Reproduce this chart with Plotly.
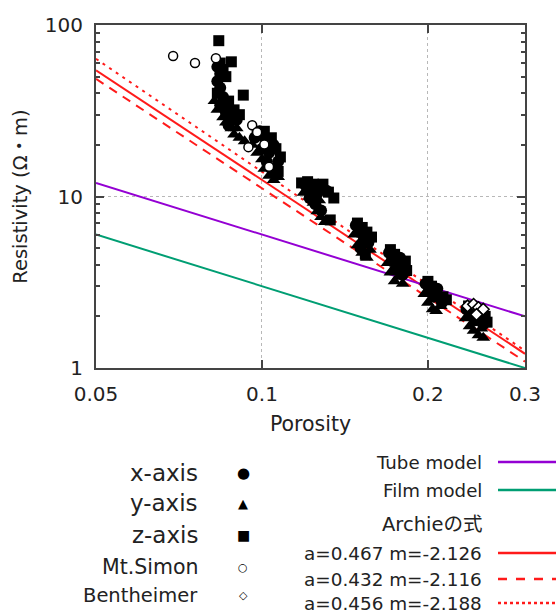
import plotly.graph_objects as go

# measured samples (porosity, resistivity in ohm-m)
x_phi = [0.083, 0.084, 0.083, 0.084, 0.085, 0.084, 0.086, 0.088, 0.090, 0.087,
         0.097, 0.099, 0.101, 0.100, 0.103, 0.102, 0.104, 0.106, 0.105, 0.107,
         0.120, 0.123, 0.126, 0.122, 0.125, 0.128, 0.131,
         0.148, 0.150, 0.153, 0.151, 0.156,
         0.170, 0.172, 0.175, 0.178, 0.180,
         0.198, 0.201, 0.205, 0.208, 0.212,
         0.235, 0.240, 0.244, 0.248, 0.252]
x_res = [57, 52, 47, 43, 38, 34, 31, 30, 28, 26,
         22, 24, 22, 19, 18, 16, 14.5, 13.5, 20, 16,
         11.6, 11.0, 10.4, 9.8, 9.0, 8.3, 10.8,
         6.8, 6.2, 5.6, 5.0, 5.4,
         4.7, 4.2, 3.8, 4.4, 3.5,
         3.1, 2.8, 2.6, 2.9, 2.4,
         2.2, 2.05, 1.9, 2.15, 1.8]

y_phi = [0.082, 0.083, 0.085, 0.086, 0.088, 0.089, 0.091, 0.093, 0.090, 0.087,
         0.096, 0.098, 0.100, 0.101, 0.103, 0.105, 0.107,
         0.119, 0.122, 0.124, 0.126, 0.128, 0.130, 0.127,
         0.147, 0.149, 0.152, 0.155, 0.157,
         0.169, 0.171, 0.174, 0.177, 0.180,
         0.197, 0.200, 0.204, 0.207, 0.211,
         0.234, 0.238, 0.242, 0.247, 0.252, 0.250]
y_res = [36, 32, 29, 27, 25, 23, 22, 21, 25, 33,
         20, 18, 16.5, 14.5, 13.2, 12.5, 13,
         10.5, 10, 9.2, 8.2, 7.6, 7.1, 9.5,
         6.0, 5.2, 4.7, 4.4, 4.9,
         4.1, 3.6, 3.2, 3.4, 3.1,
         2.7, 2.4, 2.2, 2.15, 2.3,
         1.95, 1.75, 1.65, 1.55, 1.5, 1.7]

z_phi = [0.0835, 0.088, 0.0925, 0.084, 0.085, 0.086, 0.083, 0.087, 0.089, 0.091,
         0.098, 0.101, 0.104, 0.106, 0.108, 0.107, 0.103,
         0.118, 0.121, 0.124, 0.127, 0.129, 0.132, 0.135, 0.133,
         0.149, 0.152, 0.155, 0.158, 0.154,
         0.171, 0.174, 0.177, 0.182, 0.183,
         0.200, 0.203, 0.207, 0.213, 0.216,
         0.237, 0.243, 0.249, 0.254, 0.256]
z_res = [81, 61, 39, 60, 55, 50, 40, 36, 32, 30,
         23, 24, 22, 19, 17, 14, 20,
         12, 12.2, 11.8, 11.4, 11.8, 10.6, 9.8, 7.3,
         7.0, 6.6, 6.2, 5.8, 4.6,
         4.9, 4.6, 4.0, 4.2, 3.7,
         3.2, 3.0, 2.7, 2.6, 2.5,
         2.3, 2.0, 1.9, 2.0, 1.85]

simon_phi = [0.069, 0.0756, 0.0825, 0.096, 0.098, 0.0945, 0.101, 0.103]
simon_res = [66, 60, 64, 26, 23.7, 19.4, 20.1, 14.9]

benth_phi = [0.236, 0.242, 0.247, 0.252, 0.245]
benth_res = [2.3, 2.35, 2.25, 2.2, 2.05]

# model lines, end values at porosity 0.05 and 0.3
line_phi = [0.05, 0.3]
tube_res = [12.0, 2.0]
film_res = [6.0, 1.0]
archie1_res = [54.5, 1.21]
archie2_res = [48.5, 1.09]
archie3_res = [63.5, 1.26]

FONT = "DejaVu Sans, Noto Sans CJK JP, sans-serif"
PURPLE = "#9400d3"
GREEN = "#009e73"
RED = "#ff1a1a"

fig = go.Figure()

for res, dash in [(archie2_res, "9px,7px"), (archie3_res, "3px,5px"), (archie1_res, "solid")]:
    fig.add_trace(go.Scatter(x=line_phi, y=res, mode="lines",
                             line=dict(color=RED, width=2, dash=dash)))
fig.add_trace(go.Scatter(x=line_phi, y=tube_res, mode="lines", line=dict(color=PURPLE, width=2)))
fig.add_trace(go.Scatter(x=line_phi, y=film_res, mode="lines", line=dict(color=GREEN, width=2)))

fig.add_trace(go.Scatter(x=z_phi, y=z_res, mode="markers",
                         marker=dict(symbol="square", size=11, color="black")))
fig.add_trace(go.Scatter(x=y_phi, y=y_res, mode="markers",
                         marker=dict(symbol="triangle-up", size=12, color="black")))
fig.add_trace(go.Scatter(x=x_phi, y=x_res, mode="markers",
                         marker=dict(symbol="circle", size=12, color="black")))
fig.add_trace(go.Scatter(x=simon_phi, y=simon_res, mode="markers",
                         marker=dict(symbol="circle", size=9, color="white",
                                     line=dict(color="black", width=1.5))))
fig.add_trace(go.Scatter(x=benth_phi, y=benth_res, mode="markers",
                         marker=dict(symbol="diamond", size=9, color="white",
                                     line=dict(color="black", width=1.5))))

# hand-made legends under the plot (text right-aligned, symbol on the right)
W, H, L, T = 429.0, 343.0, 96.0, 25.0


def px(x):
    return (x - L) / W


def py(y):
    return (T + H - y) / H


left_items = [("x-axis", "●", 473, 23, 15), ("y-axis", "▲", 503, 23, 13),
              ("z-axis", "■", 535, 23, 14), ("Mt.Simon", "○", 567, 20.5, 11),
              ("Bentheimer", "◇", 595, 19.5, 11)]
for text, sym, yy, fs, ss in left_items:
    fig.add_annotation(x=px(200), y=py(yy), xref="paper", yref="paper", text=text,
                       showarrow=False, xanchor="right", yanchor="middle",
                       font=dict(size=fs, color="#222", family=FONT))
    fig.add_annotation(x=px(243), y=py(yy), xref="paper", yref="paper", text=sym,
                       showarrow=False, xanchor="center", yanchor="middle",
                       font=dict(size=ss, color="black", family="DejaVu Sans"))

right_items = [("Tube model", 462, 18.2, PURPLE, "solid"),
               ("Film model", 490, 18.2, GREEN, "solid"),
               ("Archieの式", 524, 19.5, None, None),
               ("a=0.467 m=-2.126", 553, 18.4, RED, "solid"),
               ("a=0.432 m=-2.116", 579, 18.4, RED, "dash"),
               ("a=0.456 m=-2.188", 603, 18.4, RED, "dot")]
for text, yy, fs, col, dash in right_items:
    fig.add_annotation(x=px(484), y=py(yy), xref="paper", yref="paper", text=text,
                       showarrow=False, xanchor="right", yanchor="middle",
                       font=dict(size=fs, color="#222", family=FONT))
    if col:
        fig.add_shape(type="line", xref="paper", yref="paper",
                      x0=px(498), x1=px(556), y0=py(yy), y1=py(yy),
                      line=dict(color=col, width=2.5, dash=dash))

axis_common = dict(type="log", showline=True, linecolor="#444", linewidth=2, mirror="ticks",
                   ticks="inside", tickcolor="#444", ticklen=8, tickwidth=1.5,
                   showgrid=True, gridcolor="#b8b8b8", griddash="dot", gridwidth=1,
                   zeroline=False, automargin=False,
                   tickfont=dict(size=20, color="#222", family=FONT),
                   ticklabelstandoff=7)

fig.update_layout(
    width=558, height=616,
    margin=dict(l=96, r=33, t=25, b=248),
    paper_bgcolor="white", plot_bgcolor="white",
    showlegend=False,
    font=dict(family=FONT, color="#222"),
    xaxis=dict(axis_common, range=[-1.30103, -0.522879],
               tickvals=[0.05, 0.1, 0.2, 0.3], ticktext=["0.05", "0.1", "0.2", "0.3"],
               title=dict(text="Porosity", font=dict(size=20.5, family=FONT), standoff=12)),
    yaxis=dict(axis_common, range=[0, 2],
               tickvals=[1, 10, 100], ticktext=["1", "10", "100"],
               minor=dict(ticks="inside", ticklen=4, tickcolor="#444", showgrid=False,
                          tickvals=[2, 3, 4, 5, 6, 7, 8, 9, 20, 30, 40, 50, 60, 70, 80, 90]),
               title=dict(text="Resistivity (Ω・m)", font=dict(size=19.5, family=FONT), standoff=12)),
)

# drop the default 8px page margin so the figure sits at the window origin
fig.write_html("out.html", config={"displayModeBar": False},
               post_script="document.body.style.margin='0';")
